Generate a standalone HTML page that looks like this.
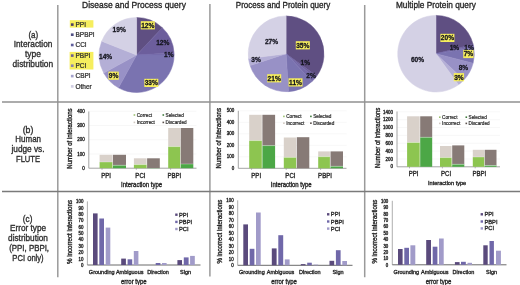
<!DOCTYPE html>
<html><head><meta charset="utf-8"><style>
html,body{margin:0;padding:0;background:#fff;overflow:hidden;}
body{width:520px;height:285px;overflow:hidden;font-family:"Liberation Sans",sans-serif;}
svg{display:block;}
#w{width:1040px;height:570px;transform:scale(0.5);transform-origin:0 0;filter:blur(0.9px);}
</style></head><body>
<div id="w"><svg width="1040" height="570" viewBox="0 0 520 285" font-family="Liberation Sans, sans-serif">
<rect x="0" y="0" width="520" height="285" fill="#fff"/>
<line x1="57.80" y1="5.00" x2="57.80" y2="277.30" stroke="#9a9a9a" stroke-width="1.5"/>
<line x1="209.90" y1="4.00" x2="209.90" y2="276.50" stroke="#9a9a9a" stroke-width="1.5"/>
<line x1="364.70" y1="5.00" x2="364.70" y2="277.30" stroke="#9a9a9a" stroke-width="1.5"/>
<line x1="2.00" y1="102.00" x2="520.00" y2="102.00" stroke="#909090" stroke-width="1.7"/>
<line x1="2.00" y1="191.50" x2="520.00" y2="191.50" stroke="#7a7a7a" stroke-width="1.3"/>
<text x="0" y="0" transform="translate(33.30,37.50) scale(1,1.08)" font-size="8.4" text-anchor="middle" fill="#2e2e2e" stroke="#2e2e2e" stroke-width="0.32" textLength="9.80" lengthAdjust="spacingAndGlyphs" >(a)</text>
<text x="0" y="0" transform="translate(33.05,47.20) scale(1,1.08)" font-size="8.4" text-anchor="middle" fill="#2e2e2e" stroke="#2e2e2e" stroke-width="0.32" textLength="38.70" lengthAdjust="spacingAndGlyphs" >Interaction</text>
<text x="0" y="0" transform="translate(33.00,56.90) scale(1,1.08)" font-size="8.4" text-anchor="middle" fill="#2e2e2e" stroke="#2e2e2e" stroke-width="0.32" textLength="16.00" lengthAdjust="spacingAndGlyphs" >type</text>
<text x="0" y="0" transform="translate(32.90,66.60) scale(1,1.08)" font-size="8.4" text-anchor="middle" fill="#2e2e2e" stroke="#2e2e2e" stroke-width="0.32" textLength="40.60" lengthAdjust="spacingAndGlyphs" >distribution</text>
<text x="0" y="0" transform="translate(28.00,132.90) scale(1,1.08)" font-size="8.4" text-anchor="middle" fill="#2e2e2e" stroke="#2e2e2e" stroke-width="0.32" textLength="10.70" lengthAdjust="spacingAndGlyphs" >(b)</text>
<text x="0" y="0" transform="translate(28.20,142.00) scale(1,1.08)" font-size="8.4" text-anchor="middle" fill="#2e2e2e" stroke="#2e2e2e" stroke-width="0.32" textLength="25.70" lengthAdjust="spacingAndGlyphs" >Human</text>
<text x="0" y="0" transform="translate(28.00,151.50) scale(1,1.08)" font-size="8.4" text-anchor="middle" fill="#2e2e2e" stroke="#2e2e2e" stroke-width="0.32" textLength="33.10" lengthAdjust="spacingAndGlyphs" >judge vs.</text>
<text x="0" y="0" transform="translate(28.00,162.30) scale(1,1.08)" font-size="8.4" text-anchor="middle" fill="#2e2e2e" stroke="#2e2e2e" stroke-width="0.32" textLength="24.00" lengthAdjust="spacingAndGlyphs" >FLUTE</text>
<text x="0" y="0" transform="translate(27.60,221.60) scale(1,1.08)" font-size="8.2" text-anchor="middle" fill="#2e2e2e" stroke="#2e2e2e" stroke-width="0.32" textLength="9.50" lengthAdjust="spacingAndGlyphs" >(c)</text>
<text x="0" y="0" transform="translate(28.00,231.30) scale(1,1.08)" font-size="8.2" text-anchor="middle" fill="#2e2e2e" stroke="#2e2e2e" stroke-width="0.32" textLength="36.00" lengthAdjust="spacingAndGlyphs" >Error type</text>
<text x="0" y="0" transform="translate(28.00,240.70) scale(1,1.08)" font-size="8.2" text-anchor="middle" fill="#2e2e2e" stroke="#2e2e2e" stroke-width="0.32" textLength="39.90" lengthAdjust="spacingAndGlyphs" >distribution</text>
<text x="0" y="0" transform="translate(29.10,251.10) scale(1,1.08)" font-size="8.2" text-anchor="middle" fill="#2e2e2e" stroke="#2e2e2e" stroke-width="0.32" textLength="39.90" lengthAdjust="spacingAndGlyphs" >(PPI, PBPI,</text>
<text x="0" y="0" transform="translate(28.00,261.20) scale(1,1.08)" font-size="8.2" text-anchor="middle" fill="#2e2e2e" stroke="#2e2e2e" stroke-width="0.32" textLength="31.30" lengthAdjust="spacingAndGlyphs" >PCI only)</text>
<text x="0" y="0" transform="translate(82.00,8.10) scale(1,1.08)" font-size="9.0" text-anchor="start" fill="#262626" stroke="#262626" stroke-width="0.32" textLength="103.90" lengthAdjust="spacingAndGlyphs" >Disease and Process query</text>
<text x="0" y="0" transform="translate(235.80,8.00) scale(1,1.08)" font-size="8.6" text-anchor="start" fill="#262626" stroke="#262626" stroke-width="0.32" textLength="94.40" lengthAdjust="spacingAndGlyphs" >Process and Protein query</text>
<text x="0" y="0" transform="translate(396.00,7.90) scale(1,1.08)" font-size="8.8" text-anchor="start" fill="#262626" stroke="#262626" stroke-width="0.32" textLength="79.80" lengthAdjust="spacingAndGlyphs" >Multiple Protein query</text>
<path d="M136.60,55.00 L136.60,17.50 A37.5,37.5 0 0 1 162.27,27.66 Z" fill="#5f4f82" stroke="#5f4f82" stroke-width="0.5" stroke-linejoin="round"/>
<path d="M136.60,55.00 L162.27,27.66 A37.5,37.5 0 0 1 174.03,52.65 Z" fill="#6c5e9c" stroke="#6c5e9c" stroke-width="0.5" stroke-linejoin="round"/>
<path d="M136.60,55.00 L174.03,52.65 A37.5,37.5 0 0 1 174.10,55.00 Z" fill="#7469a8" stroke="#7469a8" stroke-width="0.5" stroke-linejoin="round"/>
<path d="M136.60,55.00 L174.10,55.00 A37.5,37.5 0 0 1 118.53,87.86 Z" fill="#7a73b0" stroke="#7a73b0" stroke-width="0.5" stroke-linejoin="round"/>
<path d="M136.60,55.00 L118.53,87.86 A37.5,37.5 0 0 1 103.74,73.07 Z" fill="#9891c6" stroke="#9891c6" stroke-width="0.5" stroke-linejoin="round"/>
<path d="M136.60,55.00 L103.74,73.07 A37.5,37.5 0 0 1 101.73,41.20 Z" fill="#b4afd6" stroke="#b4afd6" stroke-width="0.5" stroke-linejoin="round"/>
<path d="M136.60,55.00 L101.73,41.20 A37.5,37.5 0 0 1 136.60,17.50 Z" fill="#d4d1e5" stroke="#d4d1e5" stroke-width="0.5" stroke-linejoin="round"/>
<rect x="140.80" y="21.20" width="14.01" height="8.20" fill="#f6ee5e" />
<text x="0" y="0" transform="translate(147.80,27.70) scale(1,1.08)" font-size="6.6" text-anchor="middle" fill="#15151f" stroke="#15151f" stroke-width="0.25" font-weight="bold" >12%</text>
<text x="0" y="0" transform="translate(162.80,45.10) scale(1,1.08)" font-size="6.6" text-anchor="middle" fill="#15151f" stroke="#15151f" stroke-width="0.25" font-weight="bold" >12%</text>
<text x="0" y="0" transform="translate(168.80,56.60) scale(1,1.08)" font-size="6.6" text-anchor="middle" fill="#15151f" stroke="#15151f" stroke-width="0.25" font-weight="bold" >1%</text>
<rect x="144.30" y="78.80" width="14.01" height="8.20" fill="#f6ee5e" />
<text x="0" y="0" transform="translate(151.30,85.30) scale(1,1.08)" font-size="6.6" text-anchor="middle" fill="#15151f" stroke="#15151f" stroke-width="0.25" font-weight="bold" >33%</text>
<rect x="108.43" y="71.60" width="10.34" height="8.20" fill="#f6ee5e" />
<text x="0" y="0" transform="translate(113.60,78.10) scale(1,1.08)" font-size="6.6" text-anchor="middle" fill="#15151f" stroke="#15151f" stroke-width="0.25" font-weight="bold" >9%</text>
<text x="0" y="0" transform="translate(105.60,59.00) scale(1,1.08)" font-size="6.6" text-anchor="middle" fill="#15151f" stroke="#15151f" stroke-width="0.25" font-weight="bold" >14%</text>
<text x="0" y="0" transform="translate(119.20,31.90) scale(1,1.08)" font-size="6.6" text-anchor="middle" fill="#15151f" stroke="#15151f" stroke-width="0.25" font-weight="bold" >19%</text>
<path d="M286.10,53.80 L286.10,15.90 A37.9,37.9 0 0 1 316.76,76.08 Z" fill="#5f4f82" stroke="#5f4f82" stroke-width="0.5" stroke-linejoin="round"/>
<path d="M286.10,53.80 L316.76,76.08 A37.9,37.9 0 0 1 315.30,77.96 Z" fill="#6c5e9c" stroke="#6c5e9c" stroke-width="0.5" stroke-linejoin="round"/>
<path d="M286.10,53.80 L315.30,77.96 A37.9,37.9 0 0 1 312.04,81.43 Z" fill="#7469a8" stroke="#7469a8" stroke-width="0.5" stroke-linejoin="round"/>
<path d="M286.10,53.80 L312.04,81.43 A37.9,37.9 0 0 1 288.48,91.63 Z" fill="#7a73b0" stroke="#7a73b0" stroke-width="0.5" stroke-linejoin="round"/>
<path d="M286.10,53.80 L288.48,91.63 A37.9,37.9 0 0 1 250.05,65.51 Z" fill="#9891c6" stroke="#9891c6" stroke-width="0.5" stroke-linejoin="round"/>
<path d="M286.10,53.80 L250.05,65.51 A37.9,37.9 0 0 1 248.50,58.55 Z" fill="#b4afd6" stroke="#b4afd6" stroke-width="0.5" stroke-linejoin="round"/>
<path d="M286.10,53.80 L248.50,58.55 A37.9,37.9 0 0 1 286.10,15.90 Z" fill="#d4d1e5" stroke="#d4d1e5" stroke-width="0.5" stroke-linejoin="round"/>
<rect x="295.80" y="41.20" width="14.01" height="8.20" fill="#f6ee5e" />
<text x="0" y="0" transform="translate(302.80,47.70) scale(1,1.08)" font-size="6.6" text-anchor="middle" fill="#15151f" stroke="#15151f" stroke-width="0.25" font-weight="bold" >35%</text>
<text x="0" y="0" transform="translate(305.30,65.30) scale(1,1.08)" font-size="6.6" text-anchor="middle" fill="#15151f" stroke="#15151f" stroke-width="0.25" font-weight="bold" >1%</text>
<text x="0" y="0" transform="translate(311.10,78.20) scale(1,1.08)" font-size="6.6" text-anchor="middle" fill="#15151f" stroke="#15151f" stroke-width="0.25" font-weight="bold" >2%</text>
<rect x="288.50" y="78.30" width="14.01" height="8.20" fill="#f6ee5e" />
<text x="0" y="0" transform="translate(295.50,84.80) scale(1,1.08)" font-size="6.6" text-anchor="middle" fill="#15151f" stroke="#15151f" stroke-width="0.25" font-weight="bold" >11%</text>
<rect x="267.20" y="74.20" width="14.01" height="8.20" fill="#f6ee5e" />
<text x="0" y="0" transform="translate(274.20,80.70) scale(1,1.08)" font-size="6.6" text-anchor="middle" fill="#15151f" stroke="#15151f" stroke-width="0.25" font-weight="bold" >21%</text>
<text x="0" y="0" transform="translate(256.00,61.70) scale(1,1.08)" font-size="6.6" text-anchor="middle" fill="#15151f" stroke="#15151f" stroke-width="0.25" font-weight="bold" >3%</text>
<text x="0" y="0" transform="translate(271.50,44.00) scale(1,1.08)" font-size="6.6" text-anchor="middle" fill="#15151f" stroke="#15151f" stroke-width="0.25" font-weight="bold" >27%</text>
<path d="M436.00,53.70 L436.00,15.40 A38.3,38.3 0 0 1 473.10,44.18 Z" fill="#5f4f82" stroke="#5f4f82" stroke-width="0.5" stroke-linejoin="round"/>
<path d="M436.00,53.70 L473.10,44.18 A38.3,38.3 0 0 1 473.48,45.82 Z" fill="#6c5e9c" stroke="#6c5e9c" stroke-width="0.5" stroke-linejoin="round"/>
<path d="M436.00,53.70 L473.48,45.82 A38.3,38.3 0 0 1 473.79,47.47 Z" fill="#7469a8" stroke="#7469a8" stroke-width="0.5" stroke-linejoin="round"/>
<path d="M436.00,53.70 L473.79,47.47 A38.3,38.3 0 0 1 473.10,63.22 Z" fill="#7a73b0" stroke="#7a73b0" stroke-width="0.5" stroke-linejoin="round"/>
<path d="M436.00,53.70 L473.10,63.22 A38.3,38.3 0 0 1 463.92,79.92 Z" fill="#9891c6" stroke="#9891c6" stroke-width="0.5" stroke-linejoin="round"/>
<path d="M436.00,53.70 L463.92,79.92 A38.3,38.3 0 0 1 458.51,84.69 Z" fill="#b4afd6" stroke="#b4afd6" stroke-width="0.5" stroke-linejoin="round"/>
<path d="M436.00,53.70 L458.51,84.69 A38.3,38.3 0 1 1 436.00,15.40 Z" fill="#d4d1e5" stroke="#d4d1e5" stroke-width="0.5" stroke-linejoin="round"/>
<rect x="440.40" y="33.80" width="14.01" height="8.20" fill="#f6ee5e" />
<text x="0" y="0" transform="translate(447.40,40.30) scale(1,1.08)" font-size="6.6" text-anchor="middle" fill="#15151f" stroke="#15151f" stroke-width="0.25" font-weight="bold" >20%</text>
<text x="0" y="0" transform="translate(454.40,50.10) scale(1,1.08)" font-size="6.6" text-anchor="middle" fill="#15151f" stroke="#15151f" stroke-width="0.25" font-weight="bold" >1%</text>
<text x="0" y="0" transform="translate(469.10,49.50) scale(1,1.08)" font-size="6.6" text-anchor="middle" fill="#15151f" stroke="#15151f" stroke-width="0.25" font-weight="bold" >1%</text>
<rect x="463.23" y="49.90" width="10.34" height="8.20" fill="#f6ee5e" />
<text x="0" y="0" transform="translate(468.40,56.40) scale(1,1.08)" font-size="6.6" text-anchor="middle" fill="#15151f" stroke="#15151f" stroke-width="0.25" font-weight="bold" >7%</text>
<text x="0" y="0" transform="translate(463.40,69.90) scale(1,1.08)" font-size="6.6" text-anchor="middle" fill="#15151f" stroke="#15151f" stroke-width="0.25" font-weight="bold" >8%</text>
<rect x="453.73" y="73.10" width="10.34" height="8.20" fill="#f6ee5e" />
<text x="0" y="0" transform="translate(458.90,79.60) scale(1,1.08)" font-size="6.6" text-anchor="middle" fill="#15151f" stroke="#15151f" stroke-width="0.25" font-weight="bold" >3%</text>
<text x="0" y="0" transform="translate(417.50,62.30) scale(1,1.08)" font-size="6.6" text-anchor="middle" fill="#15151f" stroke="#15151f" stroke-width="0.25" font-weight="bold" >60%</text>
<rect x="69.80" y="20.20" width="23.60" height="7.40" fill="#f6ee5e" />
<rect x="69.60" y="51.90" width="23.80" height="17.60" fill="#f6ee5e" />
<rect x="70.90" y="23.30" width="2.70" height="2.60" fill="#4c3d66" />
<text x="0" y="0" transform="translate(75.50,26.90) scale(1,1.08)" font-size="6.5" text-anchor="start" fill="#2a2a2a" stroke="#2a2a2a" stroke-width="0.22" >PPI</text>
<rect x="70.90" y="33.40" width="2.70" height="2.60" fill="#4f4f84" />
<text x="0" y="0" transform="translate(75.50,37.00) scale(1,1.08)" font-size="6.5" text-anchor="start" fill="#2a2a2a" stroke="#2a2a2a" stroke-width="0.22" >BPBPI</text>
<rect x="70.90" y="43.70" width="2.70" height="2.60" fill="#5f5e9c" />
<text x="0" y="0" transform="translate(75.50,47.30) scale(1,1.08)" font-size="6.5" text-anchor="start" fill="#2a2a2a" stroke="#2a2a2a" stroke-width="0.22" >CCI</text>
<rect x="70.90" y="54.30" width="2.70" height="2.60" fill="#6e6090" />
<text x="0" y="0" transform="translate(75.50,57.90) scale(1,1.08)" font-size="6.5" text-anchor="start" fill="#2a2a2a" stroke="#2a2a2a" stroke-width="0.22" >PBPI</text>
<rect x="70.90" y="64.40" width="2.70" height="2.60" fill="#8a82ae" />
<text x="0" y="0" transform="translate(75.50,68.00) scale(1,1.08)" font-size="6.5" text-anchor="start" fill="#2a2a2a" stroke="#2a2a2a" stroke-width="0.22" >PCI</text>
<rect x="70.90" y="74.80" width="2.70" height="2.60" fill="#a4a2cc" />
<text x="0" y="0" transform="translate(75.50,78.40) scale(1,1.08)" font-size="6.5" text-anchor="start" fill="#2a2a2a" stroke="#2a2a2a" stroke-width="0.22" >CBPI</text>
<rect x="70.90" y="85.10" width="2.70" height="2.60" fill="#cfcde2" />
<text x="0" y="0" transform="translate(75.50,88.70) scale(1,1.08)" font-size="6.5" text-anchor="start" fill="#2a2a2a" stroke="#2a2a2a" stroke-width="0.22" >Other</text>
<line x1="88.80" y1="153.95" x2="196.50" y2="153.95" stroke="#f1f1f1" stroke-width="0.6"/>
<line x1="88.80" y1="139.70" x2="196.50" y2="139.70" stroke="#f1f1f1" stroke-width="0.6"/>
<line x1="88.80" y1="125.45" x2="196.50" y2="125.45" stroke="#f1f1f1" stroke-width="0.6"/>
<line x1="88.80" y1="111.20" x2="196.50" y2="111.20" stroke="#f1f1f1" stroke-width="0.6"/>
<line x1="88.80" y1="111.50" x2="88.80" y2="168.20" stroke="#9a9a9a" stroke-width="0.9"/>
<line x1="88.80" y1="168.20" x2="196.50" y2="168.20" stroke="#9a9a9a" stroke-width="0.9"/>
<text x="0" y="0" transform="translate(84.70,169.85) scale(1,1.08)" font-size="4.5" text-anchor="end" fill="#262626" stroke="#262626" stroke-width="0.32" >0</text>
<text x="0" y="0" transform="translate(84.70,155.60) scale(1,1.08)" font-size="4.5" text-anchor="end" fill="#262626" stroke="#262626" stroke-width="0.32" >100</text>
<text x="0" y="0" transform="translate(84.70,141.35) scale(1,1.08)" font-size="4.5" text-anchor="end" fill="#262626" stroke="#262626" stroke-width="0.32" >200</text>
<text x="0" y="0" transform="translate(84.70,127.10) scale(1,1.08)" font-size="4.5" text-anchor="end" fill="#262626" stroke="#262626" stroke-width="0.32" >300</text>
<text x="0" y="0" transform="translate(84.70,112.85) scale(1,1.08)" font-size="4.5" text-anchor="end" fill="#262626" stroke="#262626" stroke-width="0.32" >400</text>
<rect x="99.60" y="154.80" width="12.80" height="7.20" fill="#d9d1ca" />
<rect x="99.60" y="162.00" width="12.80" height="6.20" fill="#8dc550" />
<line x1="99.60" y1="162.00" x2="112.40" y2="162.00" stroke="#fff" stroke-opacity="0.6" stroke-width="0.5"/>
<rect x="112.90" y="154.80" width="13.10" height="10.50" fill="#877a76" />
<rect x="112.90" y="165.30" width="13.10" height="2.90" fill="#4ca746" />
<line x1="112.90" y1="165.30" x2="126.00" y2="165.30" stroke="#fff" stroke-opacity="0.6" stroke-width="0.5"/>
<rect x="133.90" y="158.30" width="12.70" height="6.30" fill="#d9d1ca" />
<rect x="133.90" y="164.60" width="12.70" height="3.60" fill="#8dc550" />
<line x1="133.90" y1="164.60" x2="146.60" y2="164.60" stroke="#fff" stroke-opacity="0.6" stroke-width="0.5"/>
<rect x="147.10" y="158.30" width="12.70" height="9.70" fill="#877a76" />
<rect x="147.10" y="168.00" width="12.70" height="0.20" fill="#4ca746" />
<rect x="168.20" y="128.00" width="12.00" height="18.60" fill="#d9d1ca" />
<rect x="168.20" y="146.60" width="12.00" height="21.60" fill="#8dc550" />
<line x1="168.20" y1="146.60" x2="180.20" y2="146.60" stroke="#fff" stroke-opacity="0.6" stroke-width="0.5"/>
<rect x="180.70" y="128.00" width="12.60" height="36.00" fill="#877a76" />
<rect x="180.70" y="164.00" width="12.60" height="4.20" fill="#4ca746" />
<line x1="180.70" y1="164.00" x2="193.30" y2="164.00" stroke="#fff" stroke-opacity="0.6" stroke-width="0.5"/>
<rect x="133.60" y="114.20" width="1.60" height="1.60" fill="#9cc070" />
<text x="0" y="0" transform="translate(136.70,116.70) scale(1,1.08)" font-size="4.7" text-anchor="start" fill="#262626" stroke="#262626" stroke-width="0.18" >Correct</text>
<rect x="133.60" y="121.60" width="1.60" height="1.60" fill="#d0c8c0" />
<text x="0" y="0" transform="translate(136.70,124.10) scale(1,1.08)" font-size="4.7" text-anchor="start" fill="#262626" stroke="#262626" stroke-width="0.18" >Incorrect</text>
<rect x="162.50" y="114.20" width="1.60" height="1.60" fill="#3f7a3c" />
<text x="0" y="0" transform="translate(165.60,116.70) scale(1,1.08)" font-size="4.7" text-anchor="start" fill="#262626" stroke="#262626" stroke-width="0.18" >Selected</text>
<rect x="162.50" y="121.60" width="1.60" height="1.60" fill="#5a504c" />
<text x="0" y="0" transform="translate(165.60,124.10) scale(1,1.08)" font-size="4.7" text-anchor="start" fill="#262626" stroke="#262626" stroke-width="0.18" >Discarded</text>
<line x1="102.00" y1="168.20" x2="102.00" y2="169.80" stroke="#8a8a8a" stroke-width="0.6"/>
<line x1="136.30" y1="168.20" x2="136.30" y2="169.80" stroke="#8a8a8a" stroke-width="0.6"/>
<line x1="170.60" y1="168.20" x2="170.60" y2="169.80" stroke="#8a8a8a" stroke-width="0.6"/>
<text x="0" y="0" transform="translate(106.10,177.70) scale(1,1.08)" font-size="6.5" text-anchor="middle" fill="#262626" stroke="#262626" stroke-width="0.32" textLength="9.75" lengthAdjust="spacingAndGlyphs" >PPI</text>
<text x="0" y="0" transform="translate(140.40,177.70) scale(1,1.08)" font-size="6.5" text-anchor="middle" fill="#262626" stroke="#262626" stroke-width="0.32" textLength="10.09" lengthAdjust="spacingAndGlyphs" >PCI</text>
<text x="0" y="0" transform="translate(174.40,177.70) scale(1,1.08)" font-size="6.5" text-anchor="middle" fill="#262626" stroke="#262626" stroke-width="0.32" textLength="13.79" lengthAdjust="spacingAndGlyphs" >PBPI</text>
<text x="0" y="0" transform="translate(141.60,186.90) scale(1,1.08)" font-size="6.0" text-anchor="middle" fill="#262626" stroke="#262626" stroke-width="0.32" >Interaction type</text>
<text x="0.00" y="0.00" font-size="5.9" text-anchor="middle" fill="#262626" stroke="#262626" stroke-width="0.32" textLength="60.30" lengthAdjust="spacingAndGlyphs" transform="translate(71.80,138.55) rotate(-90) scale(1,1.08)">Number of interactions</text>
<line x1="238.30" y1="156.80" x2="346.50" y2="156.80" stroke="#f1f1f1" stroke-width="0.6"/>
<line x1="238.30" y1="145.30" x2="346.50" y2="145.30" stroke="#f1f1f1" stroke-width="0.6"/>
<line x1="238.30" y1="133.80" x2="346.50" y2="133.80" stroke="#f1f1f1" stroke-width="0.6"/>
<line x1="238.30" y1="122.30" x2="346.50" y2="122.30" stroke="#f1f1f1" stroke-width="0.6"/>
<line x1="238.30" y1="110.80" x2="346.50" y2="110.80" stroke="#f1f1f1" stroke-width="0.6"/>
<line x1="238.30" y1="110.80" x2="238.30" y2="168.30" stroke="#9a9a9a" stroke-width="0.9"/>
<line x1="238.30" y1="168.30" x2="346.50" y2="168.30" stroke="#9a9a9a" stroke-width="0.9"/>
<text x="0" y="0" transform="translate(234.20,169.95) scale(1,1.08)" font-size="4.5" text-anchor="end" fill="#262626" stroke="#262626" stroke-width="0.32" >0</text>
<text x="0" y="0" transform="translate(234.20,158.45) scale(1,1.08)" font-size="4.5" text-anchor="end" fill="#262626" stroke="#262626" stroke-width="0.32" >100</text>
<text x="0" y="0" transform="translate(234.20,146.95) scale(1,1.08)" font-size="4.5" text-anchor="end" fill="#262626" stroke="#262626" stroke-width="0.32" >200</text>
<text x="0" y="0" transform="translate(234.20,135.45) scale(1,1.08)" font-size="4.5" text-anchor="end" fill="#262626" stroke="#262626" stroke-width="0.32" >300</text>
<text x="0" y="0" transform="translate(234.20,123.95) scale(1,1.08)" font-size="4.5" text-anchor="end" fill="#262626" stroke="#262626" stroke-width="0.32" >400</text>
<text x="0" y="0" transform="translate(234.20,112.45) scale(1,1.08)" font-size="4.5" text-anchor="end" fill="#262626" stroke="#262626" stroke-width="0.32" >500</text>
<rect x="249.20" y="114.80" width="12.60" height="25.80" fill="#d9d1ca" />
<rect x="249.20" y="140.60" width="12.60" height="27.70" fill="#8dc550" />
<line x1="249.20" y1="140.60" x2="261.80" y2="140.60" stroke="#fff" stroke-opacity="0.6" stroke-width="0.5"/>
<rect x="262.40" y="114.80" width="12.70" height="30.80" fill="#877a76" />
<rect x="262.40" y="145.60" width="12.70" height="22.70" fill="#4ca746" />
<line x1="262.40" y1="145.60" x2="275.10" y2="145.60" stroke="#fff" stroke-opacity="0.6" stroke-width="0.5"/>
<rect x="283.80" y="137.50" width="12.40" height="19.90" fill="#d9d1ca" />
<rect x="283.80" y="157.40" width="12.40" height="10.90" fill="#8dc550" />
<line x1="283.80" y1="157.40" x2="296.20" y2="157.40" stroke="#fff" stroke-opacity="0.6" stroke-width="0.5"/>
<rect x="296.80" y="137.20" width="12.50" height="31.10" fill="#877a76" />
<rect x="296.80" y="168.30" width="12.50" height="0.00" fill="#4ca746" />
<rect x="318.20" y="151.40" width="11.70" height="5.30" fill="#d9d1ca" />
<rect x="318.20" y="156.70" width="11.70" height="11.60" fill="#8dc550" />
<line x1="318.20" y1="156.70" x2="329.90" y2="156.70" stroke="#fff" stroke-opacity="0.6" stroke-width="0.5"/>
<rect x="330.50" y="151.40" width="12.50" height="14.90" fill="#877a76" />
<rect x="330.50" y="166.30" width="12.50" height="2.00" fill="#4ca746" />
<line x1="330.50" y1="166.30" x2="343.00" y2="166.30" stroke="#fff" stroke-opacity="0.6" stroke-width="0.5"/>
<rect x="283.10" y="115.60" width="1.60" height="1.60" fill="#9cc070" />
<text x="0" y="0" transform="translate(286.20,118.10) scale(1,1.08)" font-size="4.7" text-anchor="start" fill="#262626" stroke="#262626" stroke-width="0.18" >Correct</text>
<rect x="283.10" y="122.40" width="1.60" height="1.60" fill="#d0c8c0" />
<text x="0" y="0" transform="translate(286.20,124.90) scale(1,1.08)" font-size="4.7" text-anchor="start" fill="#262626" stroke="#262626" stroke-width="0.18" >Incorrect</text>
<rect x="310.10" y="115.60" width="1.60" height="1.60" fill="#3f7a3c" />
<text x="0" y="0" transform="translate(313.20,118.10) scale(1,1.08)" font-size="4.7" text-anchor="start" fill="#262626" stroke="#262626" stroke-width="0.18" >Selected</text>
<rect x="310.10" y="122.40" width="1.60" height="1.60" fill="#5a504c" />
<text x="0" y="0" transform="translate(313.20,124.90) scale(1,1.08)" font-size="4.7" text-anchor="start" fill="#262626" stroke="#262626" stroke-width="0.18" >Discarded</text>
<line x1="251.60" y1="168.30" x2="251.60" y2="169.90" stroke="#8a8a8a" stroke-width="0.6"/>
<line x1="286.20" y1="168.30" x2="286.20" y2="169.90" stroke="#8a8a8a" stroke-width="0.6"/>
<line x1="320.60" y1="168.30" x2="320.60" y2="169.90" stroke="#8a8a8a" stroke-width="0.6"/>
<text x="0" y="0" transform="translate(256.20,178.00) scale(1,1.08)" font-size="6.5" text-anchor="middle" fill="#262626" stroke="#262626" stroke-width="0.32" textLength="9.75" lengthAdjust="spacingAndGlyphs" >PPI</text>
<text x="0" y="0" transform="translate(290.40,178.00) scale(1,1.08)" font-size="6.5" text-anchor="middle" fill="#262626" stroke="#262626" stroke-width="0.32" textLength="10.09" lengthAdjust="spacingAndGlyphs" >PCI</text>
<text x="0" y="0" transform="translate(325.00,178.00) scale(1,1.08)" font-size="6.5" text-anchor="middle" fill="#262626" stroke="#262626" stroke-width="0.32" textLength="13.79" lengthAdjust="spacingAndGlyphs" >PBPI</text>
<text x="0" y="0" transform="translate(291.20,186.70) scale(1,1.08)" font-size="6.0" text-anchor="middle" fill="#262626" stroke="#262626" stroke-width="0.32" >Interaction type</text>
<text x="0.00" y="0.00" font-size="5.9" text-anchor="middle" fill="#262626" stroke="#262626" stroke-width="0.32" textLength="60.30" lengthAdjust="spacingAndGlyphs" transform="translate(221.30,138.25) rotate(-90) scale(1,1.08)">Number of interactions</text>
<line x1="397.00" y1="158.95" x2="500.00" y2="158.95" stroke="#f1f1f1" stroke-width="0.6"/>
<line x1="397.00" y1="151.10" x2="500.00" y2="151.10" stroke="#f1f1f1" stroke-width="0.6"/>
<line x1="397.00" y1="143.25" x2="500.00" y2="143.25" stroke="#f1f1f1" stroke-width="0.6"/>
<line x1="397.00" y1="135.40" x2="500.00" y2="135.40" stroke="#f1f1f1" stroke-width="0.6"/>
<line x1="397.00" y1="127.55" x2="500.00" y2="127.55" stroke="#f1f1f1" stroke-width="0.6"/>
<line x1="397.00" y1="119.70" x2="500.00" y2="119.70" stroke="#f1f1f1" stroke-width="0.6"/>
<line x1="397.00" y1="111.85" x2="500.00" y2="111.85" stroke="#f1f1f1" stroke-width="0.6"/>
<line x1="397.00" y1="111.50" x2="397.00" y2="166.80" stroke="#9a9a9a" stroke-width="0.9"/>
<line x1="397.00" y1="166.80" x2="500.00" y2="166.80" stroke="#9a9a9a" stroke-width="0.9"/>
<text x="0" y="0" transform="translate(392.90,168.45) scale(1,1.08)" font-size="4.5" text-anchor="end" fill="#262626" stroke="#262626" stroke-width="0.32" >0</text>
<text x="0" y="0" transform="translate(392.90,160.60) scale(1,1.08)" font-size="4.5" text-anchor="end" fill="#262626" stroke="#262626" stroke-width="0.32" >200</text>
<text x="0" y="0" transform="translate(392.90,152.75) scale(1,1.08)" font-size="4.5" text-anchor="end" fill="#262626" stroke="#262626" stroke-width="0.32" >400</text>
<text x="0" y="0" transform="translate(392.90,144.90) scale(1,1.08)" font-size="4.5" text-anchor="end" fill="#262626" stroke="#262626" stroke-width="0.32" >600</text>
<text x="0" y="0" transform="translate(392.90,137.05) scale(1,1.08)" font-size="4.5" text-anchor="end" fill="#262626" stroke="#262626" stroke-width="0.32" >800</text>
<text x="0" y="0" transform="translate(392.90,129.20) scale(1,1.08)" font-size="4.5" text-anchor="end" fill="#262626" stroke="#262626" stroke-width="0.32" >1000</text>
<text x="0" y="0" transform="translate(392.90,121.35) scale(1,1.08)" font-size="4.5" text-anchor="end" fill="#262626" stroke="#262626" stroke-width="0.32" >1200</text>
<text x="0" y="0" transform="translate(392.90,113.50) scale(1,1.08)" font-size="4.5" text-anchor="end" fill="#262626" stroke="#262626" stroke-width="0.32" >1400</text>
<rect x="407.10" y="116.30" width="12.60" height="26.20" fill="#d9d1ca" />
<rect x="407.10" y="142.50" width="12.60" height="24.30" fill="#8dc550" />
<line x1="407.10" y1="142.50" x2="419.70" y2="142.50" stroke="#fff" stroke-opacity="0.6" stroke-width="0.5"/>
<rect x="420.20" y="116.30" width="12.00" height="21.00" fill="#877a76" />
<rect x="420.20" y="137.30" width="12.00" height="29.50" fill="#4ca746" />
<line x1="420.20" y1="137.30" x2="432.20" y2="137.30" stroke="#fff" stroke-opacity="0.6" stroke-width="0.5"/>
<rect x="440.00" y="146.00" width="11.60" height="11.60" fill="#d9d1ca" />
<rect x="440.00" y="157.60" width="11.60" height="9.20" fill="#8dc550" />
<line x1="440.00" y1="157.60" x2="451.60" y2="157.60" stroke="#fff" stroke-opacity="0.6" stroke-width="0.5"/>
<rect x="452.20" y="145.40" width="12.10" height="18.90" fill="#877a76" />
<rect x="452.20" y="164.30" width="12.10" height="2.50" fill="#4ca746" />
<line x1="452.20" y1="164.30" x2="464.30" y2="164.30" stroke="#fff" stroke-opacity="0.6" stroke-width="0.5"/>
<rect x="472.80" y="149.80" width="11.40" height="7.20" fill="#d9d1ca" />
<rect x="472.80" y="157.00" width="11.40" height="9.80" fill="#8dc550" />
<line x1="472.80" y1="157.00" x2="484.20" y2="157.00" stroke="#fff" stroke-opacity="0.6" stroke-width="0.5"/>
<rect x="484.70" y="149.80" width="11.80" height="15.70" fill="#877a76" />
<rect x="484.70" y="165.50" width="11.80" height="1.30" fill="#4ca746" />
<line x1="484.70" y1="165.50" x2="496.50" y2="165.50" stroke="#fff" stroke-opacity="0.6" stroke-width="0.5"/>
<rect x="439.00" y="116.40" width="1.60" height="1.60" fill="#9cc070" />
<text x="0" y="0" transform="translate(442.10,118.90) scale(1,1.08)" font-size="4.7" text-anchor="start" fill="#262626" stroke="#262626" stroke-width="0.18" >Correct</text>
<rect x="439.00" y="122.60" width="1.60" height="1.60" fill="#d0c8c0" />
<text x="0" y="0" transform="translate(442.10,125.10) scale(1,1.08)" font-size="4.7" text-anchor="start" fill="#262626" stroke="#262626" stroke-width="0.18" >Incorrect</text>
<rect x="465.50" y="116.40" width="1.60" height="1.60" fill="#3f7a3c" />
<text x="0" y="0" transform="translate(468.60,118.90) scale(1,1.08)" font-size="4.7" text-anchor="start" fill="#262626" stroke="#262626" stroke-width="0.18" >Selected</text>
<rect x="465.50" y="122.60" width="1.60" height="1.60" fill="#5a504c" />
<text x="0" y="0" transform="translate(468.60,125.10) scale(1,1.08)" font-size="4.7" text-anchor="start" fill="#262626" stroke="#262626" stroke-width="0.18" >Discarded</text>
<line x1="409.50" y1="166.80" x2="409.50" y2="168.40" stroke="#8a8a8a" stroke-width="0.6"/>
<line x1="442.40" y1="166.80" x2="442.40" y2="168.40" stroke="#8a8a8a" stroke-width="0.6"/>
<line x1="475.20" y1="166.80" x2="475.20" y2="168.40" stroke="#8a8a8a" stroke-width="0.6"/>
<text x="0" y="0" transform="translate(413.60,175.80) scale(1,1.08)" font-size="6.5" text-anchor="middle" fill="#262626" stroke="#262626" stroke-width="0.32" textLength="9.75" lengthAdjust="spacingAndGlyphs" >PPI</text>
<text x="0" y="0" transform="translate(446.10,175.80) scale(1,1.08)" font-size="6.5" text-anchor="middle" fill="#262626" stroke="#262626" stroke-width="0.32" textLength="10.09" lengthAdjust="spacingAndGlyphs" >PCI</text>
<text x="0" y="0" transform="translate(479.30,175.80) scale(1,1.08)" font-size="6.5" text-anchor="middle" fill="#262626" stroke="#262626" stroke-width="0.32" textLength="13.79" lengthAdjust="spacingAndGlyphs" >PBPI</text>
<text x="0" y="0" transform="translate(447.10,184.60) scale(1,1.08)" font-size="5.6" text-anchor="middle" fill="#262626" stroke="#262626" stroke-width="0.32" >Interaction type</text>
<text x="0.00" y="0.00" font-size="5.9" text-anchor="middle" fill="#262626" stroke="#262626" stroke-width="0.32" textLength="60.30" lengthAdjust="spacingAndGlyphs" transform="translate(380.30,137.85) rotate(-90) scale(1,1.08)">Number of interactions</text>
<line x1="87.40" y1="201.40" x2="87.40" y2="265.00" stroke="#9a9a9a" stroke-width="0.8"/>
<line x1="87.40" y1="265.00" x2="200.50" y2="265.00" stroke="#5a5a5a" stroke-width="0.9"/>
<text x="0" y="0" transform="translate(83.40,266.90) scale(1,1.08)" font-size="4.4" text-anchor="end" fill="#262626" stroke="#262626" stroke-width="0.32" >0</text>
<text x="0" y="0" transform="translate(83.40,260.54) scale(1,1.08)" font-size="4.4" text-anchor="end" fill="#262626" stroke="#262626" stroke-width="0.32" >10</text>
<text x="0" y="0" transform="translate(83.40,254.18) scale(1,1.08)" font-size="4.4" text-anchor="end" fill="#262626" stroke="#262626" stroke-width="0.32" >20</text>
<text x="0" y="0" transform="translate(83.40,247.82) scale(1,1.08)" font-size="4.4" text-anchor="end" fill="#262626" stroke="#262626" stroke-width="0.32" >30</text>
<text x="0" y="0" transform="translate(83.40,241.46) scale(1,1.08)" font-size="4.4" text-anchor="end" fill="#262626" stroke="#262626" stroke-width="0.32" >40</text>
<text x="0" y="0" transform="translate(83.40,235.10) scale(1,1.08)" font-size="4.4" text-anchor="end" fill="#262626" stroke="#262626" stroke-width="0.32" >50</text>
<text x="0" y="0" transform="translate(83.40,228.74) scale(1,1.08)" font-size="4.4" text-anchor="end" fill="#262626" stroke="#262626" stroke-width="0.32" >60</text>
<text x="0" y="0" transform="translate(83.40,222.38) scale(1,1.08)" font-size="4.4" text-anchor="end" fill="#262626" stroke="#262626" stroke-width="0.32" >70</text>
<text x="0" y="0" transform="translate(83.40,216.02) scale(1,1.08)" font-size="4.4" text-anchor="end" fill="#262626" stroke="#262626" stroke-width="0.32" >80</text>
<text x="0" y="0" transform="translate(83.40,209.66) scale(1,1.08)" font-size="4.4" text-anchor="end" fill="#262626" stroke="#262626" stroke-width="0.32" >90</text>
<text x="0" y="0" transform="translate(83.40,203.30) scale(1,1.08)" font-size="4.4" text-anchor="end" fill="#262626" stroke="#262626" stroke-width="0.32" >100</text>
<rect x="93.00" y="213.40" width="4.60" height="51.60" fill="#5a4a7c" />
<rect x="99.30" y="218.50" width="4.70" height="46.50" fill="#7068a9" />
<rect x="105.70" y="227.60" width="4.60" height="37.40" fill="#a19bc9" />
<rect x="121.20" y="258.60" width="4.70" height="6.40" fill="#5a4a7c" />
<rect x="127.60" y="259.30" width="4.60" height="5.70" fill="#7068a9" />
<rect x="133.80" y="251.00" width="4.60" height="14.00" fill="#a19bc9" />
<rect x="155.70" y="263.00" width="4.70" height="2.00" fill="#7068a9" />
<rect x="162.00" y="263.00" width="4.60" height="2.00" fill="#a19bc9" />
<rect x="177.40" y="260.10" width="4.60" height="4.90" fill="#5a4a7c" />
<rect x="183.80" y="257.40" width="4.80" height="7.60" fill="#7068a9" />
<rect x="190.10" y="255.90" width="4.70" height="9.10" fill="#a19bc9" />
<rect x="175.20" y="213.50" width="2.40" height="2.40" fill="#5a4a7c" />
<text x="0" y="0" transform="translate(179.00,216.70) scale(1,1.08)" font-size="5.8" text-anchor="start" fill="#2b2b2b" stroke="#2b2b2b" stroke-width="0.32" >PPI</text>
<rect x="175.20" y="220.70" width="2.40" height="2.40" fill="#7068a9" />
<text x="0" y="0" transform="translate(179.00,223.90) scale(1,1.08)" font-size="5.8" text-anchor="start" fill="#2b2b2b" stroke="#2b2b2b" stroke-width="0.32" >PBPI</text>
<rect x="175.20" y="227.80" width="2.40" height="2.40" fill="#a19bc9" />
<text x="0" y="0" transform="translate(179.00,231.00) scale(1,1.08)" font-size="5.8" text-anchor="start" fill="#2b2b2b" stroke="#2b2b2b" stroke-width="0.32" >PCI</text>
<text x="0" y="0" transform="translate(101.70,273.80) scale(1,1.08)" font-size="5.5" text-anchor="middle" fill="#262626" stroke="#262626" stroke-width="0.32" >Grounding</text>
<text x="0" y="0" transform="translate(129.70,273.80) scale(1,1.08)" font-size="5.5" text-anchor="middle" fill="#262626" stroke="#262626" stroke-width="0.32" >Ambiguous</text>
<text x="0" y="0" transform="translate(158.00,273.80) scale(1,1.08)" font-size="5.5" text-anchor="middle" fill="#262626" stroke="#262626" stroke-width="0.32" >Direction</text>
<text x="0" y="0" transform="translate(185.50,273.80) scale(1,1.08)" font-size="5.5" text-anchor="middle" fill="#262626" stroke="#262626" stroke-width="0.32" >Sign</text>
<text x="0" y="0" transform="translate(133.80,283.80) scale(1,1.08)" font-size="6.0" text-anchor="middle" fill="#262626" stroke="#262626" stroke-width="0.32" >error type</text>
<text x="0.00" y="0.00" font-size="6.1" text-anchor="middle" fill="#262626" stroke="#262626" stroke-width="0.32" textLength="64.00" lengthAdjust="spacingAndGlyphs" transform="translate(71.80,232.00) rotate(-90) scale(1,1.08)">% incorrect interactions</text>
<line x1="237.70" y1="200.30" x2="237.70" y2="265.30" stroke="#9a9a9a" stroke-width="0.8"/>
<line x1="237.70" y1="265.30" x2="352.50" y2="265.30" stroke="#5a5a5a" stroke-width="0.9"/>
<text x="0" y="0" transform="translate(233.70,267.20) scale(1,1.08)" font-size="4.4" text-anchor="end" fill="#262626" stroke="#262626" stroke-width="0.32" >0</text>
<text x="0" y="0" transform="translate(233.70,260.70) scale(1,1.08)" font-size="4.4" text-anchor="end" fill="#262626" stroke="#262626" stroke-width="0.32" >10</text>
<text x="0" y="0" transform="translate(233.70,254.20) scale(1,1.08)" font-size="4.4" text-anchor="end" fill="#262626" stroke="#262626" stroke-width="0.32" >20</text>
<text x="0" y="0" transform="translate(233.70,247.70) scale(1,1.08)" font-size="4.4" text-anchor="end" fill="#262626" stroke="#262626" stroke-width="0.32" >30</text>
<text x="0" y="0" transform="translate(233.70,241.20) scale(1,1.08)" font-size="4.4" text-anchor="end" fill="#262626" stroke="#262626" stroke-width="0.32" >40</text>
<text x="0" y="0" transform="translate(233.70,234.70) scale(1,1.08)" font-size="4.4" text-anchor="end" fill="#262626" stroke="#262626" stroke-width="0.32" >50</text>
<text x="0" y="0" transform="translate(233.70,228.20) scale(1,1.08)" font-size="4.4" text-anchor="end" fill="#262626" stroke="#262626" stroke-width="0.32" >60</text>
<text x="0" y="0" transform="translate(233.70,221.70) scale(1,1.08)" font-size="4.4" text-anchor="end" fill="#262626" stroke="#262626" stroke-width="0.32" >70</text>
<text x="0" y="0" transform="translate(233.70,215.20) scale(1,1.08)" font-size="4.4" text-anchor="end" fill="#262626" stroke="#262626" stroke-width="0.32" >80</text>
<text x="0" y="0" transform="translate(233.70,208.70) scale(1,1.08)" font-size="4.4" text-anchor="end" fill="#262626" stroke="#262626" stroke-width="0.32" >90</text>
<text x="0" y="0" transform="translate(233.70,202.20) scale(1,1.08)" font-size="4.4" text-anchor="end" fill="#262626" stroke="#262626" stroke-width="0.32" >100</text>
<rect x="243.30" y="224.40" width="4.70" height="40.90" fill="#5a4a7c" />
<rect x="249.70" y="248.80" width="4.70" height="16.50" fill="#7068a9" />
<rect x="256.00" y="212.50" width="4.70" height="52.80" fill="#a19bc9" />
<rect x="271.80" y="248.40" width="4.80" height="16.90" fill="#5a4a7c" />
<rect x="278.30" y="235.20" width="4.90" height="30.10" fill="#7068a9" />
<rect x="284.80" y="259.40" width="4.80" height="5.90" fill="#a19bc9" />
<rect x="300.80" y="264.10" width="4.70" height="1.20" fill="#5a4a7c" />
<rect x="307.20" y="262.70" width="4.60" height="2.60" fill="#7068a9" />
<rect x="313.60" y="264.60" width="4.60" height="0.70" fill="#a19bc9" />
<rect x="329.50" y="260.80" width="4.70" height="4.50" fill="#5a4a7c" />
<rect x="335.90" y="250.20" width="4.70" height="15.10" fill="#7068a9" />
<rect x="342.30" y="261.00" width="4.70" height="4.30" fill="#a19bc9" />
<rect x="327.00" y="213.10" width="2.40" height="2.40" fill="#5a4a7c" />
<text x="0" y="0" transform="translate(330.80,216.30) scale(1,1.08)" font-size="5.8" text-anchor="start" fill="#2b2b2b" stroke="#2b2b2b" stroke-width="0.32" >PPI</text>
<rect x="327.00" y="220.30" width="2.40" height="2.40" fill="#7068a9" />
<text x="0" y="0" transform="translate(330.80,223.50) scale(1,1.08)" font-size="5.8" text-anchor="start" fill="#2b2b2b" stroke="#2b2b2b" stroke-width="0.32" >PBPI</text>
<rect x="327.00" y="227.40" width="2.40" height="2.40" fill="#a19bc9" />
<text x="0" y="0" transform="translate(330.80,230.60) scale(1,1.08)" font-size="5.8" text-anchor="start" fill="#2b2b2b" stroke="#2b2b2b" stroke-width="0.32" >PCI</text>
<text x="0" y="0" transform="translate(251.90,273.80) scale(1,1.08)" font-size="5.5" text-anchor="middle" fill="#262626" stroke="#262626" stroke-width="0.32" >Grounding</text>
<text x="0" y="0" transform="translate(280.60,273.80) scale(1,1.08)" font-size="5.5" text-anchor="middle" fill="#262626" stroke="#262626" stroke-width="0.32" >Ambiguous</text>
<text x="0" y="0" transform="translate(309.80,273.80) scale(1,1.08)" font-size="5.5" text-anchor="middle" fill="#262626" stroke="#262626" stroke-width="0.32" >Direction</text>
<text x="0" y="0" transform="translate(338.00,273.80) scale(1,1.08)" font-size="5.5" text-anchor="middle" fill="#262626" stroke="#262626" stroke-width="0.32" >Sign</text>
<text x="0" y="0" transform="translate(284.00,283.80) scale(1,1.08)" font-size="6.0" text-anchor="middle" fill="#262626" stroke="#262626" stroke-width="0.32" >error type</text>
<text x="0.00" y="0.00" font-size="6.1" text-anchor="middle" fill="#262626" stroke="#262626" stroke-width="0.32" textLength="64.00" lengthAdjust="spacingAndGlyphs" transform="translate(222.40,231.60) rotate(-90) scale(1,1.08)">% incorrect interactions</text>
<line x1="392.30" y1="200.80" x2="392.30" y2="264.80" stroke="#9a9a9a" stroke-width="0.8"/>
<line x1="392.30" y1="264.80" x2="506.50" y2="264.80" stroke="#5a5a5a" stroke-width="0.9"/>
<text x="0" y="0" transform="translate(388.30,266.70) scale(1,1.08)" font-size="4.4" text-anchor="end" fill="#262626" stroke="#262626" stroke-width="0.32" >0</text>
<text x="0" y="0" transform="translate(388.30,260.30) scale(1,1.08)" font-size="4.4" text-anchor="end" fill="#262626" stroke="#262626" stroke-width="0.32" >10</text>
<text x="0" y="0" transform="translate(388.30,253.90) scale(1,1.08)" font-size="4.4" text-anchor="end" fill="#262626" stroke="#262626" stroke-width="0.32" >20</text>
<text x="0" y="0" transform="translate(388.30,247.50) scale(1,1.08)" font-size="4.4" text-anchor="end" fill="#262626" stroke="#262626" stroke-width="0.32" >30</text>
<text x="0" y="0" transform="translate(388.30,241.10) scale(1,1.08)" font-size="4.4" text-anchor="end" fill="#262626" stroke="#262626" stroke-width="0.32" >40</text>
<text x="0" y="0" transform="translate(388.30,234.70) scale(1,1.08)" font-size="4.4" text-anchor="end" fill="#262626" stroke="#262626" stroke-width="0.32" >50</text>
<text x="0" y="0" transform="translate(388.30,228.30) scale(1,1.08)" font-size="4.4" text-anchor="end" fill="#262626" stroke="#262626" stroke-width="0.32" >60</text>
<text x="0" y="0" transform="translate(388.30,221.90) scale(1,1.08)" font-size="4.4" text-anchor="end" fill="#262626" stroke="#262626" stroke-width="0.32" >70</text>
<text x="0" y="0" transform="translate(388.30,215.50) scale(1,1.08)" font-size="4.4" text-anchor="end" fill="#262626" stroke="#262626" stroke-width="0.32" >80</text>
<text x="0" y="0" transform="translate(388.30,209.10) scale(1,1.08)" font-size="4.4" text-anchor="end" fill="#262626" stroke="#262626" stroke-width="0.32" >90</text>
<text x="0" y="0" transform="translate(388.30,202.70) scale(1,1.08)" font-size="4.4" text-anchor="end" fill="#262626" stroke="#262626" stroke-width="0.32" >100</text>
<rect x="398.00" y="249.00" width="4.60" height="15.80" fill="#5a4a7c" />
<rect x="404.30" y="247.80" width="4.70" height="17.00" fill="#7068a9" />
<rect x="410.40" y="245.30" width="4.90" height="19.50" fill="#a19bc9" />
<rect x="426.20" y="240.00" width="4.80" height="24.80" fill="#5a4a7c" />
<rect x="432.70" y="246.70" width="4.70" height="18.10" fill="#7068a9" />
<rect x="439.00" y="238.50" width="4.70" height="26.30" fill="#a19bc9" />
<rect x="454.90" y="262.10" width="4.70" height="2.70" fill="#5a4a7c" />
<rect x="461.00" y="261.80" width="4.80" height="3.00" fill="#7068a9" />
<rect x="467.50" y="262.80" width="4.50" height="2.00" fill="#a19bc9" />
<rect x="483.30" y="245.30" width="4.40" height="19.50" fill="#5a4a7c" />
<rect x="489.50" y="241.00" width="4.40" height="23.80" fill="#7068a9" />
<rect x="496.00" y="250.70" width="4.90" height="14.10" fill="#a19bc9" />
<rect x="480.60" y="213.10" width="2.40" height="2.40" fill="#5a4a7c" />
<text x="0" y="0" transform="translate(484.40,216.30) scale(1,1.08)" font-size="5.8" text-anchor="start" fill="#2b2b2b" stroke="#2b2b2b" stroke-width="0.32" >PPI</text>
<rect x="480.60" y="220.30" width="2.40" height="2.40" fill="#7068a9" />
<text x="0" y="0" transform="translate(484.40,223.50) scale(1,1.08)" font-size="5.8" text-anchor="start" fill="#2b2b2b" stroke="#2b2b2b" stroke-width="0.32" >PBPI</text>
<rect x="480.60" y="227.20" width="2.40" height="2.40" fill="#a19bc9" />
<text x="0" y="0" transform="translate(484.40,230.40) scale(1,1.08)" font-size="5.8" text-anchor="start" fill="#2b2b2b" stroke="#2b2b2b" stroke-width="0.32" >PCI</text>
<text x="0" y="0" transform="translate(406.30,273.80) scale(1,1.08)" font-size="5.5" text-anchor="middle" fill="#262626" stroke="#262626" stroke-width="0.32" >Grounding</text>
<text x="0" y="0" transform="translate(434.80,273.80) scale(1,1.08)" font-size="5.5" text-anchor="middle" fill="#262626" stroke="#262626" stroke-width="0.32" >Ambiguous</text>
<text x="0" y="0" transform="translate(463.40,273.80) scale(1,1.08)" font-size="5.5" text-anchor="middle" fill="#262626" stroke="#262626" stroke-width="0.32" >Direction</text>
<text x="0" y="0" transform="translate(491.50,273.80) scale(1,1.08)" font-size="5.5" text-anchor="middle" fill="#262626" stroke="#262626" stroke-width="0.32" >Sign</text>
<text x="0" y="0" transform="translate(438.50,283.80) scale(1,1.08)" font-size="6.0" text-anchor="middle" fill="#262626" stroke="#262626" stroke-width="0.32" >error type</text>
<text x="0.00" y="0.00" font-size="6.1" text-anchor="middle" fill="#262626" stroke="#262626" stroke-width="0.32" textLength="64.00" lengthAdjust="spacingAndGlyphs" transform="translate(376.60,231.60) rotate(-90) scale(1,1.08)">% incorrect interactions</text>
</svg></div>
</body></html>
